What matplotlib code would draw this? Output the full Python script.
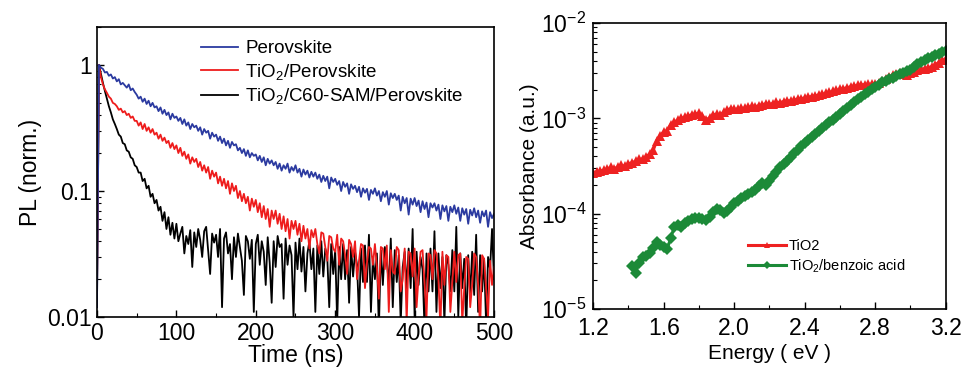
import matplotlib
matplotlib.use("Agg")
import matplotlib.pyplot as plt
import numpy as np
from matplotlib.ticker import MultipleLocator, LogLocator, NullFormatter

plt.rcParams['font.family'] = ['Liberation Sans', 'DejaVu Sans']
plt.rcParams['mathtext.fontset'] = 'custom'
plt.rcParams['mathtext.rm'] = 'Liberation Sans'
plt.rcParams['mathtext.it'] = 'Liberation Sans:italic'

# ---- left panel: PL decay, one bin every 2.5 ns ----
time_ns = np.arange(201) * 2.5

pl_perovskite = [
    0.012, 1.0, 0.95, 0.93, 0.87, 0.88, 0.82, 0.84, 0.78, 0.80,
    0.74, 0.77, 0.70, 0.72, 0.69, 0.66, 0.70, 0.63, 0.65, 0.61,
    0.58, 0.54, 0.56, 0.51, 0.54, 0.49, 0.52, 0.47, 0.50, 0.46,
    0.47, 0.43, 0.46, 0.41, 0.44, 0.40, 0.42, 0.37, 0.41, 0.38,
    0.39, 0.36, 0.38, 0.34, 0.37, 0.33, 0.35, 0.31, 0.34, 0.32,
    0.33, 0.30, 0.32, 0.28, 0.31, 0.29, 0.30, 0.26, 0.29, 0.27,
    0.28, 0.25, 0.27, 0.24, 0.26, 0.23, 0.25, 0.22, 0.245, 0.23,
    0.235, 0.21, 0.22, 0.20, 0.215, 0.19, 0.21, 0.185, 0.20, 0.19,
    0.195, 0.175, 0.19, 0.17, 0.185, 0.16, 0.18, 0.165, 0.175, 0.16,
    0.17, 0.15, 0.165, 0.145, 0.16, 0.15, 0.165, 0.14, 0.155, 0.145,
    0.16, 0.14, 0.15, 0.13, 0.148, 0.135, 0.145, 0.128, 0.142, 0.13,
    0.14, 0.125, 0.135, 0.118, 0.132, 0.12, 0.13, 0.105, 0.128, 0.118,
    0.125, 0.112, 0.12, 0.10, 0.118, 0.108, 0.115, 0.095, 0.113, 0.104,
    0.11, 0.098, 0.108, 0.09, 0.105, 0.097, 0.104, 0.085, 0.102, 0.095,
    0.105, 0.092, 0.10, 0.083, 0.098, 0.09, 0.10, 0.078, 0.096, 0.088,
    0.095, 0.085, 0.092, 0.07, 0.09, 0.08, 0.088, 0.065, 0.087, 0.078,
    0.088, 0.076, 0.084, 0.068, 0.083, 0.072, 0.081, 0.062, 0.08, 0.074,
    0.08, 0.07, 0.078, 0.06, 0.077, 0.069, 0.076, 0.058, 0.075, 0.068,
    0.077, 0.066, 0.074, 0.058, 0.073, 0.065, 0.072, 0.055, 0.071, 0.064,
    0.073, 0.062, 0.07, 0.056, 0.069, 0.063, 0.07, 0.052, 0.068, 0.061,
    0.066,
]

pl_tio2 = [
    0.015, 1.0, 0.80, 0.70, 0.64, 0.60, 0.56, 0.54, 0.50, 0.49,
    0.47, 0.44, 0.45, 0.42, 0.43, 0.40, 0.41, 0.38, 0.39, 0.36,
    0.36, 0.33, 0.35, 0.31, 0.34, 0.30, 0.32, 0.29, 0.31, 0.28,
    0.29, 0.26, 0.28, 0.25, 0.265, 0.24, 0.25, 0.22, 0.24, 0.215,
    0.23, 0.20, 0.22, 0.19, 0.205, 0.18, 0.195, 0.165, 0.185, 0.17,
    0.18, 0.155, 0.17, 0.145, 0.16, 0.14, 0.155, 0.125, 0.145, 0.13,
    0.14, 0.115, 0.13, 0.11, 0.125, 0.105, 0.12, 0.095, 0.115, 0.10,
    0.11, 0.088, 0.10, 0.083, 0.095, 0.08, 0.09, 0.07, 0.087, 0.075,
    0.085, 0.068, 0.08, 0.062, 0.076, 0.06, 0.072, 0.052, 0.07, 0.06,
    0.07, 0.055, 0.066, 0.05, 0.063, 0.048, 0.06, 0.042, 0.058, 0.05,
    0.058, 0.045, 0.055, 0.04, 0.053, 0.042, 0.05, 0.035, 0.049, 0.043,
    0.05, 0.038, 0.032, 0.047, 0.046, 0.036, 0.028, 0.044, 0.043, 0.035,
    0.033, 0.045, 0.026, 0.042, 0.04, 0.031, 0.022, 0.041, 0.038, 0.03,
    0.04, 0.02, 0.028, 0.038, 0.037, 0.017, 0.027, 0.036, 0.035, 0.026,
    0.038, 0.025, 0.014, 0.036, 0.035, 0.024, 0.037, 0.011, 0.034, 0.023,
    0.022, 0.036, 0.034, 0.016, 0.02, 0.035, 0.009, 0.033, 0.032, 0.021,
    0.035, 0.012, 0.021, 0.033, 0.034, 0.019, 0.01, 0.032, 0.031, 0.02,
    0.034, 0.032, 0.02, 0.008, 0.033, 0.018, 0.031, 0.03, 0.011, 0.019,
    0.033, 0.019, 0.031, 0.032, 0.009, 0.017, 0.03, 0.029, 0.012, 0.018,
    0.032, 0.03, 0.018, 0.008, 0.031, 0.029, 0.017, 0.01, 0.028, 0.018,
    0.025,
]

pl_tio2_c60 = [
    0.012, 1.0, 0.85, 0.72, 0.62, 0.54, 0.47, 0.42, 0.37, 0.34,
    0.31, 0.28, 0.27, 0.24, 0.235, 0.21, 0.205, 0.185, 0.18, 0.16,
    0.155, 0.14, 0.14, 0.12, 0.125, 0.105, 0.11, 0.09, 0.095, 0.08,
    0.085, 0.07, 0.075, 0.058, 0.068, 0.05, 0.062, 0.045, 0.056, 0.042,
    0.055, 0.04, 0.046, 0.052, 0.032, 0.044, 0.038, 0.049, 0.025, 0.047,
    0.036, 0.05, 0.041, 0.03, 0.048, 0.052, 0.034, 0.022, 0.046, 0.039,
    0.045, 0.03, 0.05, 0.012, 0.042, 0.047, 0.032, 0.038, 0.02, 0.043,
    0.03, 0.046, 0.036, 0.028, 0.015, 0.044, 0.04, 0.029, 0.041, 0.011,
    0.038, 0.045, 0.026, 0.04, 0.033, 0.018, 0.043, 0.027, 0.013, 0.04,
    0.025, 0.044, 0.036, 0.038, 0.014, 0.042, 0.026, 0.037, 0.031, 0.01,
    0.039, 0.024, 0.042, 0.023, 0.036, 0.016, 0.032, 0.04, 0.024, 0.035,
    0.011, 0.037, 0.022, 0.04, 0.021, 0.035, 0.03, 0.012, 0.038, 0.022,
    0.034, 0.009, 0.036, 0.02, 0.038, 0.02, 0.034, 0.013, 0.036, 0.021,
    0.033, 0.026, 0.01, 0.035, 0.019, 0.037, 0.019, 0.045, 0.011, 0.03,
    0.02, 0.032, 0.008, 0.034, 0.018, 0.036, 0.028, 0.018, 0.042, 0.012,
    0.034, 0.019, 0.031, 0.009, 0.025, 0.033, 0.017, 0.035, 0.017, 0.05,
    0.01, 0.033, 0.018, 0.03, 0.024, 0.008, 0.032, 0.016, 0.035, 0.016,
    0.048, 0.011, 0.032, 0.017, 0.03, 0.009, 0.031, 0.026, 0.016, 0.034,
    0.016, 0.052, 0.01, 0.032, 0.017, 0.029, 0.008, 0.031, 0.015, 0.033,
    0.015, 0.045, 0.011, 0.031, 0.016, 0.029, 0.009, 0.03, 0.024, 0.05,
    0.02,
]

# ---- right panel: absorbance ----
energy_tio2 = np.round(np.arange(101) * 0.02 + 1.2, 2)
abs_tio2 = [
    2.70e-4, 2.75e-4, 2.80e-4, 2.85e-4, 2.95e-4, 3.05e-4, 2.95e-4, 3.10e-4, 3.20e-4, 3.15e-4,
    3.35e-4, 3.40e-4, 3.55e-4, 3.70e-4, 3.75e-4, 3.95e-4, 4.20e-4, 4.60e-4, 5.80e-4, 6.60e-4,
    7.20e-4, 7.40e-4, 8.60e-4, 9.10e-4, 9.60e-4, 1.00e-3, 1.03e-3, 1.06e-3, 1.09e-3, 1.11e-3,
    1.13e-3, 1.06e-3, 9.60e-4, 1.01e-3, 1.09e-3, 1.10e-3, 1.08e-3, 1.16e-3, 1.23e-3, 1.26e-3,
    1.24e-3, 1.25e-3, 1.28e-3, 1.27e-3, 1.30e-3, 1.34e-3, 1.33e-3, 1.35e-3, 1.39e-3, 1.42e-3,
    1.40e-3, 1.43e-3, 1.47e-3, 1.46e-3, 1.50e-3, 1.53e-3, 1.52e-3, 1.55e-3, 1.59e-3, 1.61e-3,
    1.63e-3, 1.67e-3, 1.69e-3, 1.73e-3, 1.75e-3, 1.78e-3, 1.83e-3, 1.87e-3, 1.92e-3, 1.96e-3,
    2.01e-3, 2.05e-3, 2.09e-3, 2.14e-3, 2.18e-3, 2.21e-3, 2.24e-3, 2.26e-3, 2.27e-3, 2.28e-3,
    2.29e-3, 2.35e-3, 2.46e-3, 2.58e-3, 2.70e-3, 2.86e-3, 2.95e-3, 3.00e-3, 2.93e-3, 2.88e-3,
    2.96e-3, 3.08e-3, 3.19e-3, 3.26e-3, 3.31e-3, 3.38e-3, 3.49e-3, 3.64e-3, 3.85e-3, 4.05e-3,
    4.15e-3,
]

energy_benzoic = np.round(np.arange(90) * 0.02 + 1.42, 2)
abs_benzoic = [
    2.8e-5, 2.4e-5, 3.0e-5, 3.5e-5, 3.6e-5, 3.9e-5, 4.4e-5, 5.0e-5, 4.7e-5, 4.5e-5,
    4.3e-5, 5.5e-5, 7.3e-5, 7.6e-5, 7.2e-5, 7.9e-5, 8.3e-5, 8.8e-5, 9.0e-5, 8.9e-5,
    8.7e-5, 8.6e-5, 9.2e-5, 1.03e-4, 1.12e-4, 1.08e-4, 1.02e-4, 1.06e-4, 1.18e-4, 1.29e-4,
    1.36e-4, 1.45e-4, 1.52e-4, 1.60e-4, 1.69e-4, 1.76e-4, 1.95e-4, 2.08e-4, 2.02e-4, 2.20e-4,
    2.48e-4, 2.75e-4, 3.05e-4, 3.35e-4, 3.60e-4, 3.95e-4, 4.30e-4, 4.70e-4, 5.10e-4, 5.50e-4,
    5.90e-4, 6.35e-4, 6.80e-4, 7.40e-4, 7.90e-4, 8.50e-4, 9.10e-4, 9.70e-4, 1.03e-3, 1.11e-3,
    1.19e-3, 1.28e-3, 1.38e-3, 1.48e-3, 1.58e-3, 1.68e-3, 1.78e-3, 1.90e-3, 2.03e-3, 2.15e-3,
    2.26e-3, 2.38e-3, 2.48e-3, 2.58e-3, 2.68e-3, 2.80e-3, 2.92e-3, 3.02e-3, 3.12e-3, 3.25e-3,
    3.45e-3, 3.72e-3, 3.92e-3, 4.10e-3, 4.28e-3, 4.45e-3, 4.62e-3, 4.78e-3, 4.95e-3, 5.10e-3,
]

fig = plt.figure(figsize=(9.63, 3.74), dpi=100)
ax1 = fig.add_axes([0.1007, 0.152, 0.4123, 0.776])
ax2 = fig.add_axes([0.616, 0.174, 0.366, 0.7645])

# left panel
l_black, = ax1.plot(time_ns, pl_tio2_c60, color='black', lw=1.3)
l_red, = ax1.plot(time_ns, pl_tio2, color='#ee1c1c', lw=1.3)
l_blue, = ax1.plot(time_ns, pl_perovskite, color='#2b3aa0', lw=1.3)
ax1.set_yscale('log')
ax1.set_xlim(0, 500)
ax1.set_ylim(0.01, 2.0)
ax1.set_yticks([0.01, 0.1, 1])
ax1.set_yticklabels(['0.01', '0.1', '1'])
ax1.yaxis.set_minor_locator(LogLocator(base=10, subs=np.arange(2, 10)))
ax1.yaxis.set_minor_formatter(NullFormatter())
ax1.xaxis.set_major_locator(MultipleLocator(100))
ax1.xaxis.set_minor_locator(MultipleLocator(50))
ax1.tick_params(which='both', direction='in', top=False, right=False, labelsize=16.5)
ax1.tick_params(which='major', length=5, width=1)
ax1.tick_params(which='minor', length=3, width=0.8)
ax1.set_xlabel('Time (ns)', fontsize=16.5, labelpad=-1)
ax1.set_ylabel('PL (norm.)', fontsize=16.5, labelpad=4)
ax1.legend([l_blue, l_red, l_black],
           ['Perovskite', r'TiO$_2$/Perovskite', r'TiO$_2$/C60-SAM/Perovskite'],
           loc='upper left', bbox_to_anchor=(0.262, 0.955), frameon=False,
           fontsize=13.5, handlelength=2.0, handletextpad=0.35,
           labelspacing=0.25, borderpad=0, borderaxespad=0)
for s in ax1.spines.values():
    s.set_linewidth(1.2)

# right panel
p_red, = ax2.plot(energy_tio2, abs_tio2, color='#ee2222', lw=2.2,
                  marker='^', markersize=7, markeredgewidth=0)
p_green, = ax2.plot(energy_benzoic, abs_benzoic, color='#1c8a38', lw=2.2,
                    marker='D', markersize=6, markeredgewidth=0)
ax2.set_yscale('log')
ax2.set_xlim(1.2, 3.2)
ax2.set_ylim(1e-5, 1e-2)
ax2.set_xticks([1.2, 1.6, 2.0, 2.4, 2.8, 3.2])
ax2.set_xticklabels(['1.2', '1.6', '2.0', '2.4', '2.8', '3.2'])
ax2.xaxis.set_minor_locator(MultipleLocator(0.2))
ax2.yaxis.set_minor_locator(LogLocator(base=10, subs=np.arange(2, 10)))
ax2.yaxis.set_minor_formatter(NullFormatter())
ax2.tick_params(which='both', direction='in', top=False, right=False, labelsize=16.5)
ax2.tick_params(axis='x', pad=6)
ax2.tick_params(axis='y', pad=5)
ax2.tick_params(which='major', length=5, width=1)
ax2.tick_params(which='minor', length=3, width=0.8)
ax2.set_xlabel('Energy ( eV )', fontsize=15, labelpad=3)
ax2.set_ylabel('Absorbance (a.u.)', fontsize=15, labelpad=1)
ax2.legend([p_red, p_green], ['TiO2', r'TiO$_2$/benzoic acid'],
           loc='upper left', bbox_to_anchor=(0.44, 0.245), frameon=False,
           fontsize=10.5, handlelength=2.6, handletextpad=0.2,
           labelspacing=0.3, borderpad=0, borderaxespad=0, markerscale=0.65)
for s in ax2.spines.values():
    s.set_linewidth(1.2)

fig.savefig('out.png', dpi=100)
